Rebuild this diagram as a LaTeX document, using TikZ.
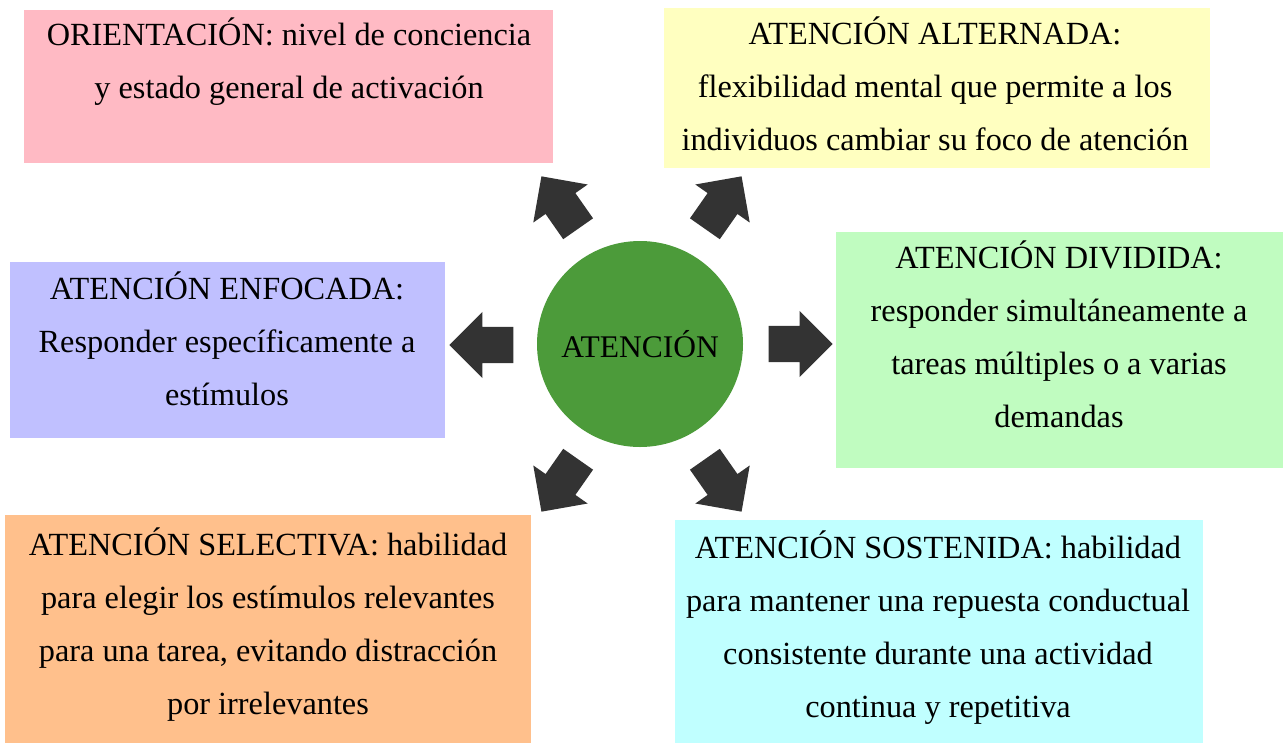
\documentclass[tikz,border=0pt]{standalone}
\usepackage{fontspec}
\setmainfont{Liberation Serif}
\usetikzlibrary{shapes.arrows}
\definecolor{rosa}{RGB}{255,186,196}
\definecolor{amarillo}{RGB}{255,255,192}
\definecolor{lavanda}{RGB}{192,192,255}
\definecolor{verdeclaro}{RGB}{192,252,192}
\definecolor{naranja}{RGB}{255,192,140}
\definecolor{celeste}{RGB}{192,255,255}
\definecolor{verde}{RGB}{76,155,58}
\definecolor{flecha}{RGB}{51,51,51}
\tikzset{
  caja/.style={rectangle, fill=#1, inner sep=0pt},
  texto/.style={align=center, inner sep=0pt, font=\fontsize{32.3}{53}\selectfont},
  bloque/.style={single arrow, fill=flecha, inner sep=0pt, text width=0pt,
    text height=18pt, text depth=18pt, minimum height=64pt,
    single arrow head extend=15pt, single arrow head indent=0pt, rotate=#1}
}
\begin{document}
\begin{tikzpicture}[x=1pt,y=-1pt]
  %%%%% START %%%%%
  \useasboundingbox[fill=white] (0,0) rectangle (1285,745);

  % cajas
  \node[caja=rosa, minimum width=529, minimum height=153] (orient) at (288.5,86.5) {};
  \node[caja=amarillo, minimum width=546, minimum height=160] (altern) at (937,88) {};
  \node[caja=lavanda, minimum width=435, minimum height=176] (enfoc) at (227.5,350) {};
  \node[caja=verdeclaro, minimum width=447, minimum height=236] (divid) at (1059.5,350) {};
  \node[caja=naranja, minimum width=526, minimum height=228] (selec) at (268,629) {};
  \node[caja=celeste, minimum width=528, minimum height=223] (sosten) at (939,631.5) {};

  % textos
  \node[texto] (orientT) at (289,62) {ORIENTACIÓN: nivel de conciencia\\y estado general de activación};
  \node[texto] (alternT) at (935,84) {ATENCIÓN ALTERNADA:\\flexibilidad mental que permite a los\\individuos cambiar su foco de atención};
  \node[texto] (enfocT) at (227,339) {ATENCIÓN ENFOCADA:\\Responder específicamente a\\estímulos};
  \node[texto] (dividT) at (1059,334) {ATENCIÓN DIVIDIDA:\\responder simultáneamente a\\tareas múltiples o a varias\\demandas};
  \node[texto] (selecT) at (268,624.5) {ATENCIÓN SELECTIVA: habilidad\\para elegir los estímulos relevantes\\para una tarea, evitando distracción\\por irrelevantes};
  \node[texto] (sostenT) at (938,627.5) {ATENCIÓN SOSTENIDA: habilidad\\para mantener una repuesta conductual\\consistente durante una actividad\\continua y repetitiva};

  % centro
  \node[circle, fill=verde, minimum size=206, inner sep=0pt,
    font=\fontsize{31.5}{36}\selectfont] (aten) at (640,344) {ATENCIÓN};

  % flechas
  \node[bloque=125] (f1) at (565,210) {};
  \node[bloque=55] (f2) at (718,210) {};
  \node[bloque=180, anchor=tip] (f3) at (449,345) {};
  \node[bloque=0, anchor=tip] (f4) at (833,344) {};
  \node[bloque=235] (f5) at (565,478) {};
  \node[bloque=305] (f6) at (718,478) {};
  %%%%% END %%%%%
\end{tikzpicture}
\end{document}
